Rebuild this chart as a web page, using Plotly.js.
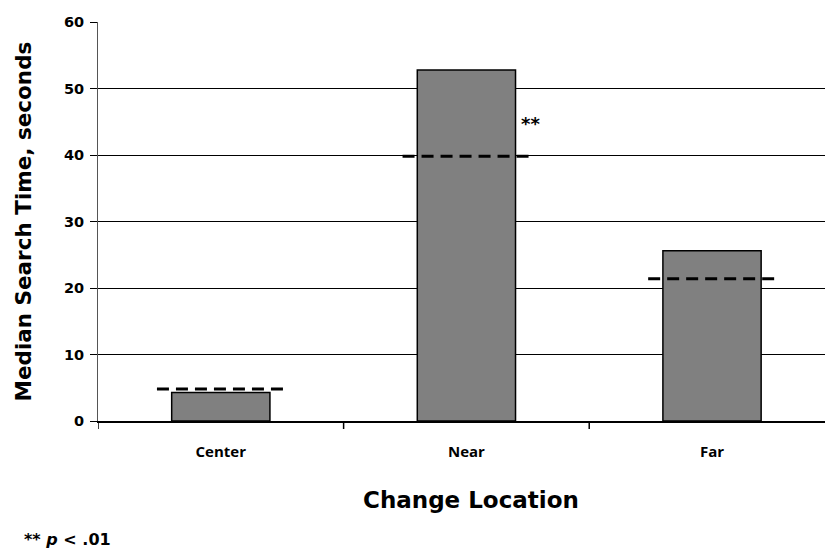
<!DOCTYPE html>
<html>
<head>
<meta charset="utf-8">
<script src="https://cdn.plot.ly/plotly-3.0.1.min.js"></script>
<style>html,body{margin:0;padding:0;background:#fff;}#chart{width:825px;height:548px;}</style>
</head>
<body>
<div id="chart"></div>
<script>
const categories = ["Center", "Near", "Far"];
const medianTimes = [4.3, 52.8, 25.6];
const referenceTimes = [4.8, 39.8, 21.4];
const yTicks = [0, 10, 20, 30, 40, 50, 60];
const significance = ["", "**", ""];

const halfDash = 0.26;
const traces = [{
  type: 'bar',
  x: [0, 1, 2],
  y: medianTimes,
  width: 0.4,
  marker: {color: '#808080', line: {color: '#000', width: 1.5}},
  hoverinfo: 'skip'
}];
referenceTimes.forEach((v, i) => {
  traces.push({
    type: 'scatter', mode: 'lines',
    x: [i - halfDash, i + halfDash], y: [v, v],
    line: {color: '#000', width: 3, dash: '12px,7px'},
    hoverinfo: 'skip'
  });
});

const bold = 'DejaVu Sans, Arial';
const annotations = [];
significance.forEach((s, i) => {
  if (s) annotations.push({
    x: i + 0.26, y: medianTimes[i] - 8.1, xref: 'x', yref: 'y', text: '<b>' + s + '</b>',
    showarrow: false, xanchor: 'center', yanchor: 'middle',
    font: {family: bold, size: 18, color: '#000'}
  });
});
annotations.push({
  xref: 'paper', yref: 'paper', x: -0.105, y: -0.298, xanchor: 'left', yanchor: 'middle',
  text: '<b>** <i>p</i> < .01</b>', showarrow: false,
  font: {family: bold, size: 16, color: '#000'}
});
annotations.push({
  xref: 'paper', yref: 'paper', x: -0.1018, y: 0.5, xanchor: 'center', yanchor: 'middle',
  textangle: -90, text: '<b>Median Search Time, seconds</b>', showarrow: false,
  font: {family: bold, size: 21.5, color: '#000'}
});
annotations.push({
  xref: 'paper', yref: 'paper', x: 0.513, y: -0.198, xanchor: 'center', yanchor: 'middle',
  text: '<b>Change Location</b>', showarrow: false,
  font: {family: bold, size: 23, color: '#000'}
});

const layout = {
  width: 825, height: 548,
  margin: {l: 98, r: 0, t: 22, b: 127},
  paper_bgcolor: '#fff', plot_bgcolor: '#fff',
  showlegend: false,
  xaxis: {
    range: [-0.5, 2.46],
    tickvals: [0, 1, 2],
    ticktext: categories,
    ticks: '', showgrid: false, zeroline: false,
    ticklabelstandoff: 16,
    showline: true, linecolor: '#000', linewidth: 2,
    tickfont: {family: 'Open Sans', size: 15, color: '#000', weight: 'bold'},
    fixedrange: true
  },
  yaxis: {
    range: [0, 60],
    tickvals: yTicks,
    ticks: 'outside', ticklen: 7, tickcolor: '#000', tickwidth: 1,
    ticklabelstandoff: 3,
    showgrid: true, gridcolor: '#000', gridwidth: 1,
    zeroline: false,
    showline: true, linecolor: '#555', linewidth: 1,
    tickfont: {family: bold, size: 14.5, color: '#000', weight: 'bold'},
    fixedrange: true
  },
  shapes: [-0.5, 0.5, 1.5].map(b => ({
    type: 'line', xref: 'x', yref: 'paper', x0: b, x1: b, y0: 0, y1: -0.02,
    line: {color: '#000', width: 1.5}
  })),
  annotations: annotations
};

Plotly.newPlot('chart', traces, layout, {staticPlot: true, displayModeBar: false});
</script>
</body>
</html>
